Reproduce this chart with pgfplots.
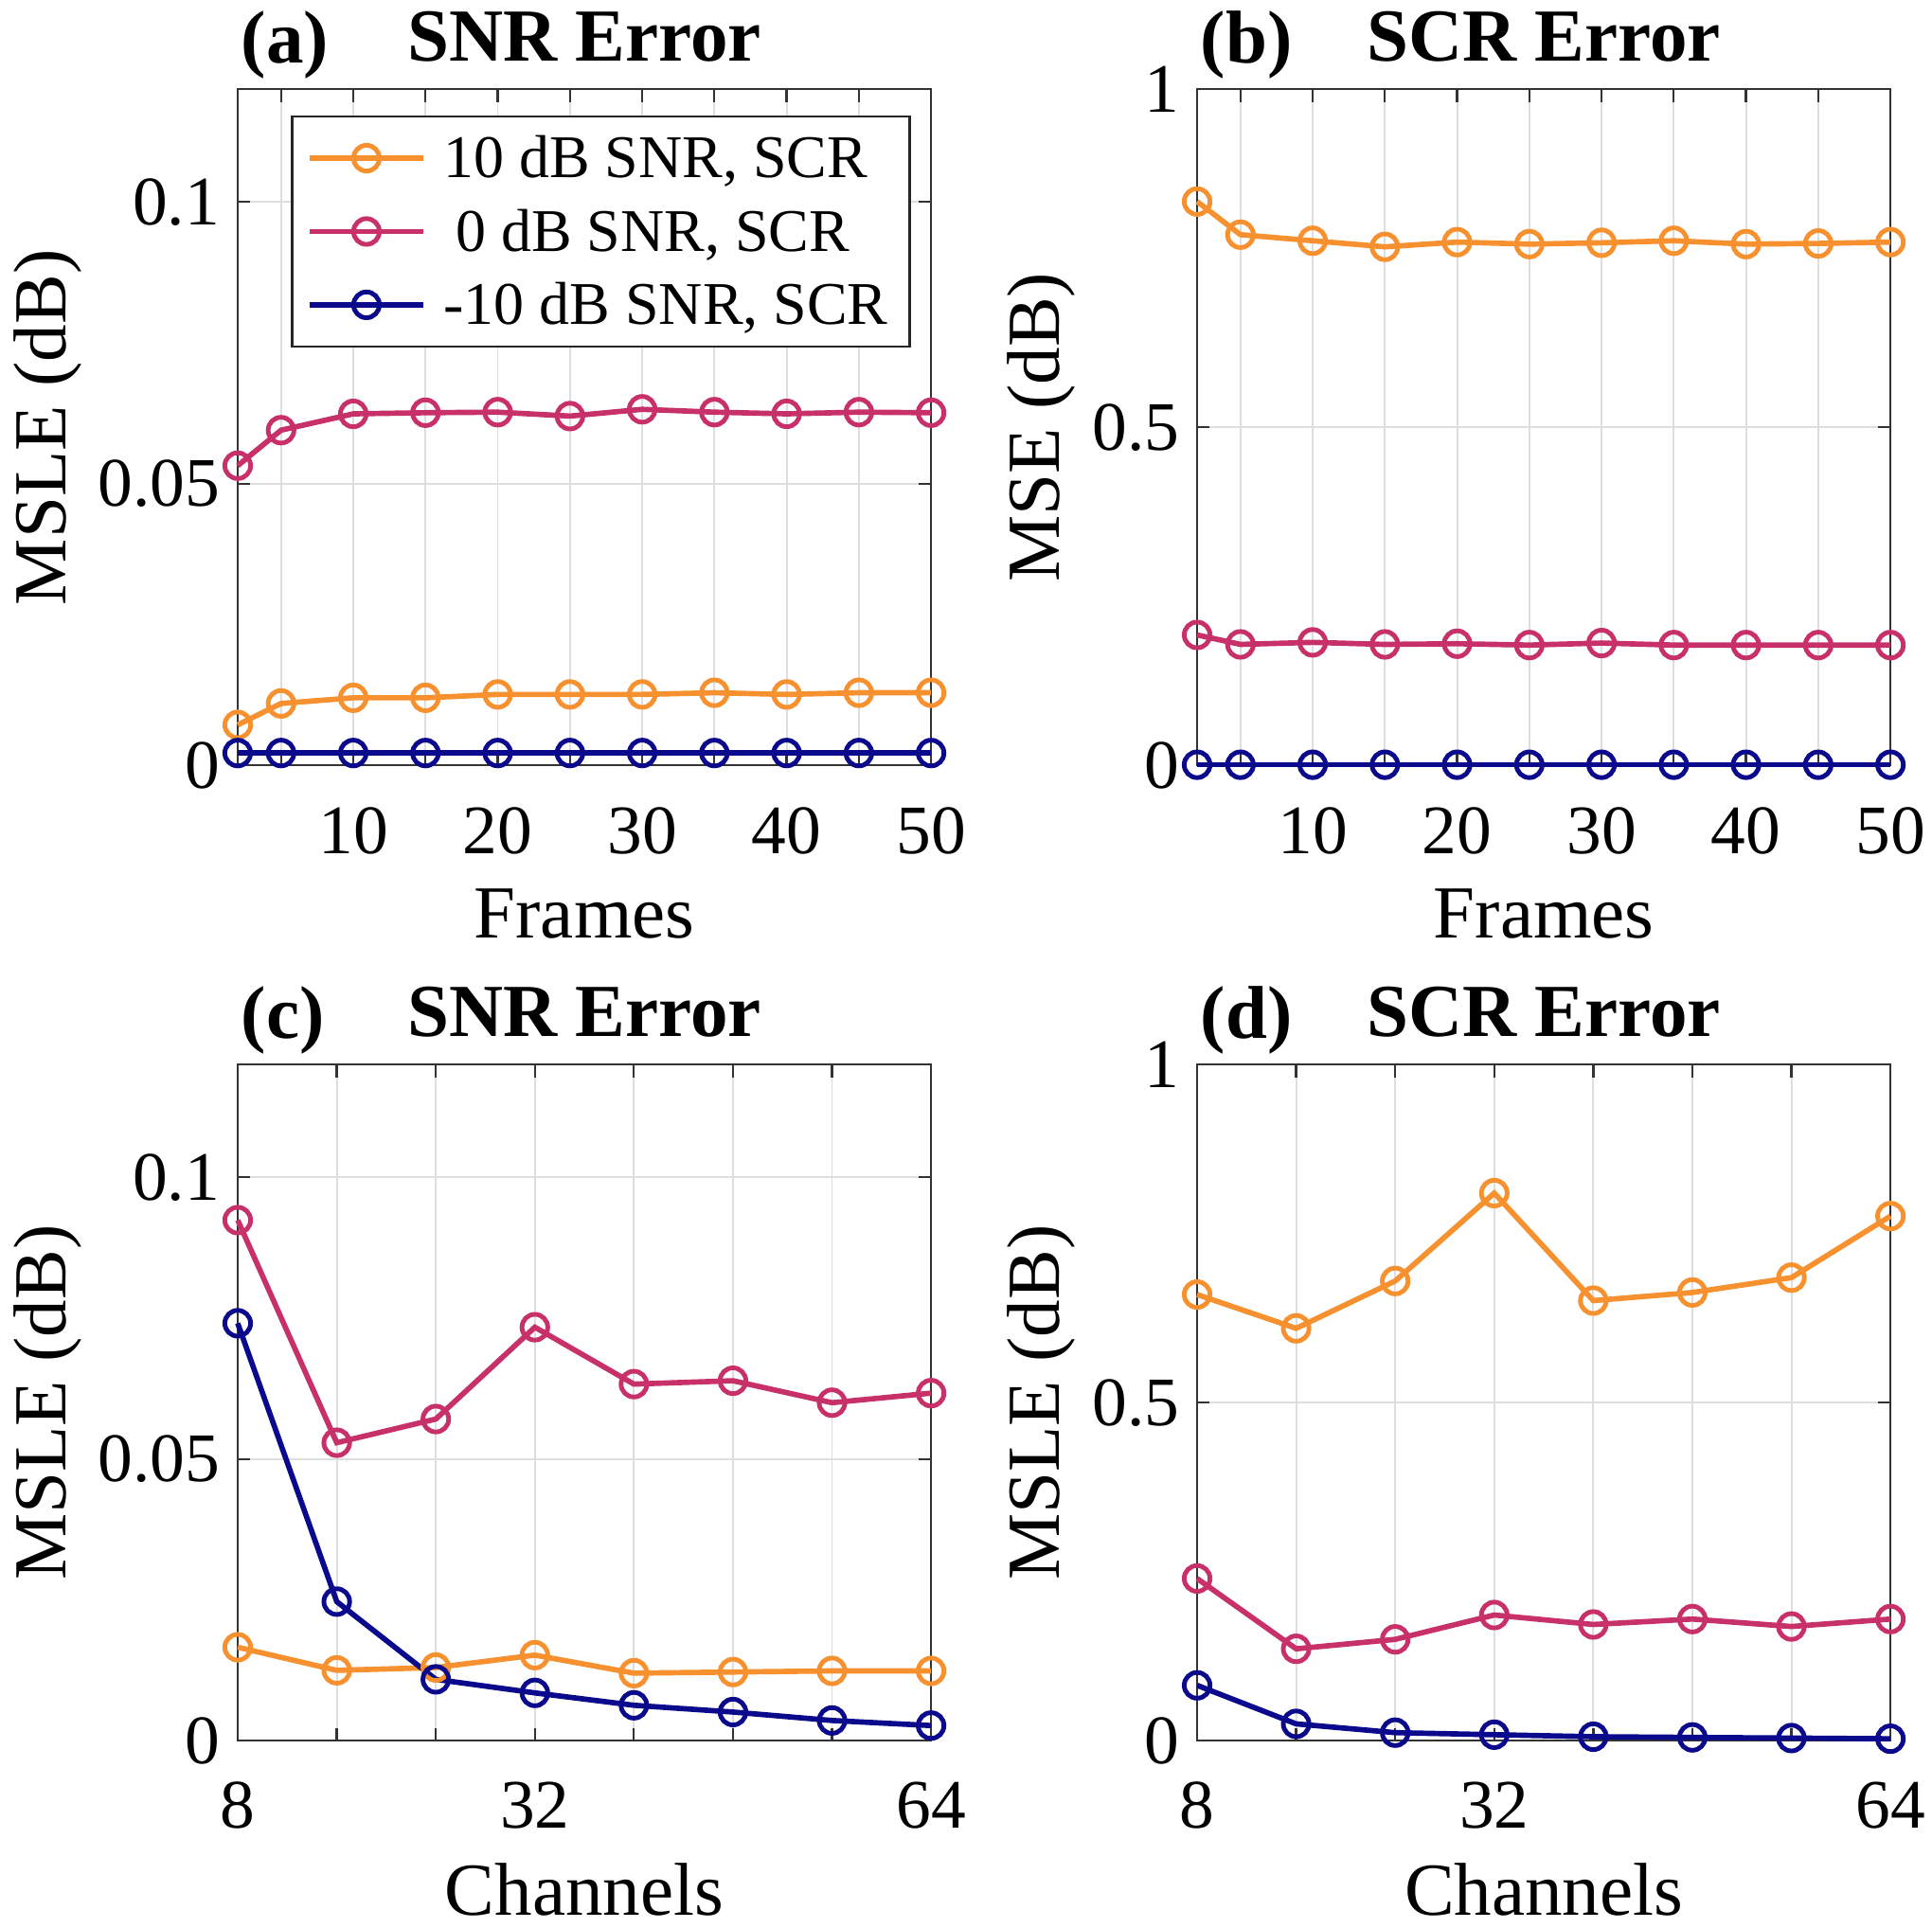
\documentclass[border=0pt]{standalone}
\usepackage{fontspec}
\setmainfont{Liberation Serif}
\usepackage{pgfplots}
\pgfplotsset{compat=1.18}
\definecolor{cor}{RGB}{247,145,47}
\definecolor{cma}{RGB}{200,48,106}
\definecolor{cnv}{RGB}{12,10,140}
\tikzset{lab/.style={anchor=base west, font=\bfseries\fontsize{21}{25}\selectfont, yshift=7.3bp, xshift=-2.5bp}}
\pgfplotsset{
  myax/.style={
    scale only axis, width=193.8bp, height=189bp,
    axis line style={draw=black!80, line width=0.6bp},
    grid=major, major grid style={draw=black!13, line width=0.5bp},
    tick align=inside, major tick length=3.5bp,
    tick style={draw=black!80, line width=0.6bp},
    ticklabel style={font=\fontsize{19.5}{22}\selectfont},
    yticklabel style={xshift=-1.5bp},
    xticklabel style={yshift=-8.1bp},
    label style={font=\fontsize{21}{25}\selectfont},
    xlabel style={at={(axis description cs:0.5,-0.2196)}, anchor=center},
    title style={font=\bfseries\fontsize{21}{25}\selectfont, at={(axis description cs:0.5,1)}, anchor=base, yshift=1.8bp},
    clip=false,
  },
  snr/.style={ymin=0, ymax=0.12, ytick={0,0.05,0.1}, yticklabels={0,0.05,0.1},
    ylabel style={at={(axis description cs:-0.274,0.5)}, anchor=center}},
  scr/.style={ymin=0, ymax=1, ytick={0,0.5,1}, yticklabels={0,0.5,1},
    ylabel style={at={(axis description cs:-0.2245,0.5)}, anchor=center}},
  frm/.style={xmin=2, xmax=50, xtick={2,5,10,15,20,25,30,35,40,45,50},
    xticklabels={,,10,,20,,30,,40,,50}, xlabel={Frames}},
  chn/.style={xmin=8, xmax=64, xtick={8,16,24,32,40,48,56,64},
    xticklabels={8,,,32,,,,64}, xlabel={Channels}},
  pO/.style={cor, line width=1.5bp, mark=o, mark size=3.6bp, mark options={line width=1.3bp, solid}},
  pM/.style={cma, line width=1.5bp, mark=o, mark size=3.6bp, mark options={line width=1.3bp, solid}},
  pN/.style={cnv, line width=1.5bp, mark=o, mark size=3.6bp, mark options={line width=1.3bp, solid}},
}
\begin{document}
\begin{tikzpicture}
\useasboundingbox (0,0) rectangle (540bp,-538.94bp);
% (a)
\begin{axis}[myax, snr, frm, name=A, at={(66.44bp,-24.96bp)}, anchor=north west,
  title={SNR Error}, ylabel={MSLE (dB)},
  legend cell align=left,
  legend style={at={(axis description cs:0.9705,0.9619)}, anchor=north east,
    draw=black!85, line width=0.6bp, fill=white,
    font=\fontsize{17}{20}\selectfont, inner xsep=4bp, inner ysep=1.5bp, row sep=0pt,
    nodes={inner xsep=2bp, inner ysep=3.75bp, text height=12bp, text depth=1bp},
    /tikz/every odd column/.style={column sep=2.8bp}},
  legend image code/.code={\draw[mark repeat=2,mark phase=2,#1] plot coordinates {(0bp,0bp) (16bp,0bp) (32bp,0bp)};}]
\addplot[pO] coordinates {(2,0.0072) (5,0.0110) (10,0.0120) (15,0.0120) (20,0.0126) (25,0.0126) (30,0.0126) (35,0.0129) (40,0.0126) (45,0.0129) (50,0.0129)};
\addlegendentry{10 dB SNR, SCR}
\addplot[pM] coordinates {(2,0.0532) (5,0.0595) (10,0.0624) (15,0.0626) (20,0.0627) (25,0.0620) (30,0.0632) (35,0.0627) (40,0.0624) (45,0.0627) (50,0.0626)};
\addlegendentry{\hspace{3.4bp}0 dB SNR, SCR}
\addplot[pN] coordinates {(2,0.0022) (5,0.0022) (10,0.0022) (15,0.0022) (20,0.0022) (25,0.0022) (30,0.0022) (35,0.0022) (40,0.0022) (45,0.0022) (50,0.0022)};
\addlegendentry{-10 dB SNR, SCR}
\end{axis}
\node[lab] at (A.north west) {(a)};
% (b)
\begin{axis}[myax, scr, frm, name=B, at={(334.59bp,-24.96bp)}, anchor=north west,
  title={SCR Error}, ylabel={MSE (dB)}]
\addplot[pO] coordinates {(2,0.834) (5,0.785) (10,0.776) (15,0.767) (20,0.774) (25,0.771) (30,0.773) (35,0.776) (40,0.771) (45,0.772) (50,0.774)};
\addplot[pM] coordinates {(2,0.193) (5,0.179) (10,0.182) (15,0.179) (20,0.180) (25,0.178) (30,0.181) (35,0.178) (40,0.178) (45,0.178) (50,0.178)};
\addplot[pN] coordinates {(2,0.001) (5,0.001) (10,0.001) (15,0.001) (20,0.001) (25,0.001) (30,0.001) (35,0.001) (40,0.001) (45,0.001) (50,0.001)};
\end{axis}
\node[lab] at (B.north west) {(b)};
% (c)
\begin{axis}[myax, snr, chn, name=C, at={(66.44bp,-297.6bp)}, anchor=north west,
  title={SNR Error}, ylabel={MSLE (dB)}]
\addplot[pO] coordinates {(8,0.0166) (16,0.0125) (24,0.0130) (32,0.0152) (40,0.0120) (48,0.0122) (56,0.0124) (64,0.0124)};
\addplot[pM] coordinates {(8,0.0924) (16,0.0529) (24,0.0571) (32,0.0734) (40,0.0633) (48,0.0639) (56,0.0600) (64,0.0617)};
\addplot[pN] coordinates {(8,0.0741) (16,0.0247) (24,0.0109) (32,0.0085) (40,0.0063) (48,0.0051) (56,0.0036) (64,0.0027)};
\end{axis}
\node[lab] at (C.north west) {(c)};
% (d)
\begin{axis}[myax, scr, chn, name=D, at={(334.59bp,-297.6bp)}, anchor=north west,
  title={SCR Error}, ylabel={MSLE (dB)}]
\addplot[pO] coordinates {(8,0.660) (16,0.610) (24,0.680) (32,0.810) (40,0.651) (48,0.663) (56,0.685) (64,0.776)};
\addplot[pM] coordinates {(8,0.240) (16,0.136) (24,0.150) (32,0.186) (40,0.172) (48,0.180) (56,0.169) (64,0.180)};
\addplot[pN] coordinates {(8,0.082) (16,0.025) (24,0.012) (32,0.009) (40,0.006) (48,0.005) (56,0.004) (64,0.003)};
\end{axis}
\node[lab] at (D.north west) {(d)};
\end{tikzpicture}
\end{document}
